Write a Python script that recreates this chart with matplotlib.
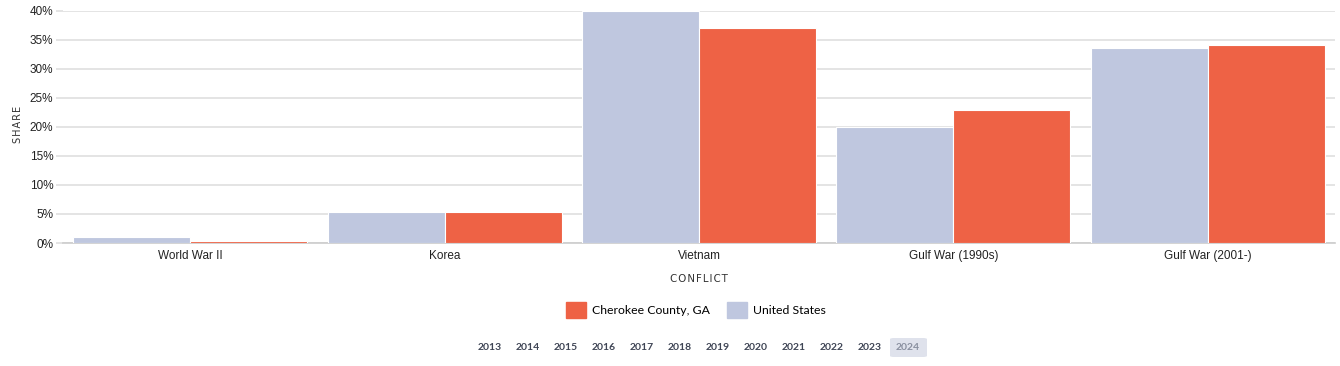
import matplotlib
matplotlib.use("Agg")
import matplotlib.pyplot as plt
import numpy as np
from matplotlib.patches import Patch, FancyBboxPatch

conflicts = ["World War II", "Korea", "Vietnam", "Gulf War (1990s)", "Gulf War (2001-)"]
us_share = [1.1, 5.3, 40.0, 20.0, 33.7]
cherokee_share = [0.4, 5.3, 37.0, 23.0, 34.2]
years = ["2013", "2014", "2015", "2016", "2017", "2018", "2019", "2020", "2021", "2022", "2023", "2024"]
selected_year = "2024"

US_COLOR = "#bfc7df"
CH_COLOR = "#ee6245"

fig = plt.figure(figsize=(13.4, 3.66), dpi=100)
ax = fig.add_axes([63 / 1340, 1 - 243 / 366, (1335 - 63) / 1340, 232 / 366])

x = np.arange(len(conflicts))
w = 0.46
ax.bar(x - w / 2, us_share, width=w, color=US_COLOR, edgecolor="white", linewidth=0.8, zorder=3)
ax.bar(x + w / 2, cherokee_share, width=w, color=CH_COLOR, edgecolor="white", linewidth=0.8, zorder=3)

ax.set_xlim(-0.5, len(conflicts) - 0.5)
ax.set_ylim(0, 40)
ax.set_yticks(range(0, 41, 5))
ax.set_yticklabels([f"{v}%" for v in range(0, 41, 5)], fontsize=8.5, family="Liberation Sans", color="#222222")
ax.set_xticks(x)
ax.set_xticklabels(conflicts, fontsize=8.5, family="Liberation Sans", color="#222222")
ax.tick_params(axis="y", length=5, width=1.3, color="#e2e2e2", pad=2)
ax.tick_params(axis="x", length=0, pad=5)
ax.grid(axis="y", color="#e2e2e2", linewidth=1.3, zorder=0)
for s in ["top", "right", "left"]:
    ax.spines[s].set_visible(False)
ax.spines["bottom"].set_color("#cccccc")
ax.spines["bottom"].set_linewidth(1.2)

fig.text(18 / 1340, 1 - 124 / 366, "S\u200aH\u200aA\u200aR\u200aE", rotation=90, ha="center", va="center",
         fontsize=7, color="#333333", family=["DejaVu Sans"])
fig.text(699 / 1340, 1 - 279 / 366, "C\u200aO\u200aN\u200aF\u200aL\u200aI\u200aC\u200aT", ha="center", va="center",
         fontsize=7.4, color="#333333", family=["DejaVu Sans"])

handles = [Patch(color=CH_COLOR, label="Cherokee County, GA"), Patch(color=US_COLOR, label="United States")]
fig.legend(handles=handles, loc="center", bbox_to_anchor=(696 / 1340, 1 - 310 / 366), ncol=2, frameon=False,
           prop={"family": "Lato", "size": 8.8}, handlelength=1.6, handleheight=1.6, handletextpad=0.5,
           columnspacing=1.4)

x0, dx = 490, 38.0
for i, yr in enumerate(years):
    xp = (x0 + i * dx) / 1340
    yp = 1 - 347 / 366
    if yr == selected_year:
        box = FancyBboxPatch((xp - 18 / 1340, 1 - 357 / 366), 37 / 1340, 19 / 366,
                             boxstyle="round,pad=0,rounding_size=0.003", transform=fig.transFigure,
                             facecolor="#dfe2ec", edgecolor="none")
        fig.patches.append(box)
        fig.text(xp, yp, yr, ha="center", va="center", fontsize=7.5, color="#8a90a0",
                 family="Lato", fontweight="bold")
    else:
        fig.text(xp, yp, yr, ha="center", va="center", fontsize=7.5, color="#3f4555",
                 family="Lato", fontweight="bold")

fig.savefig("out.png", dpi=100)
